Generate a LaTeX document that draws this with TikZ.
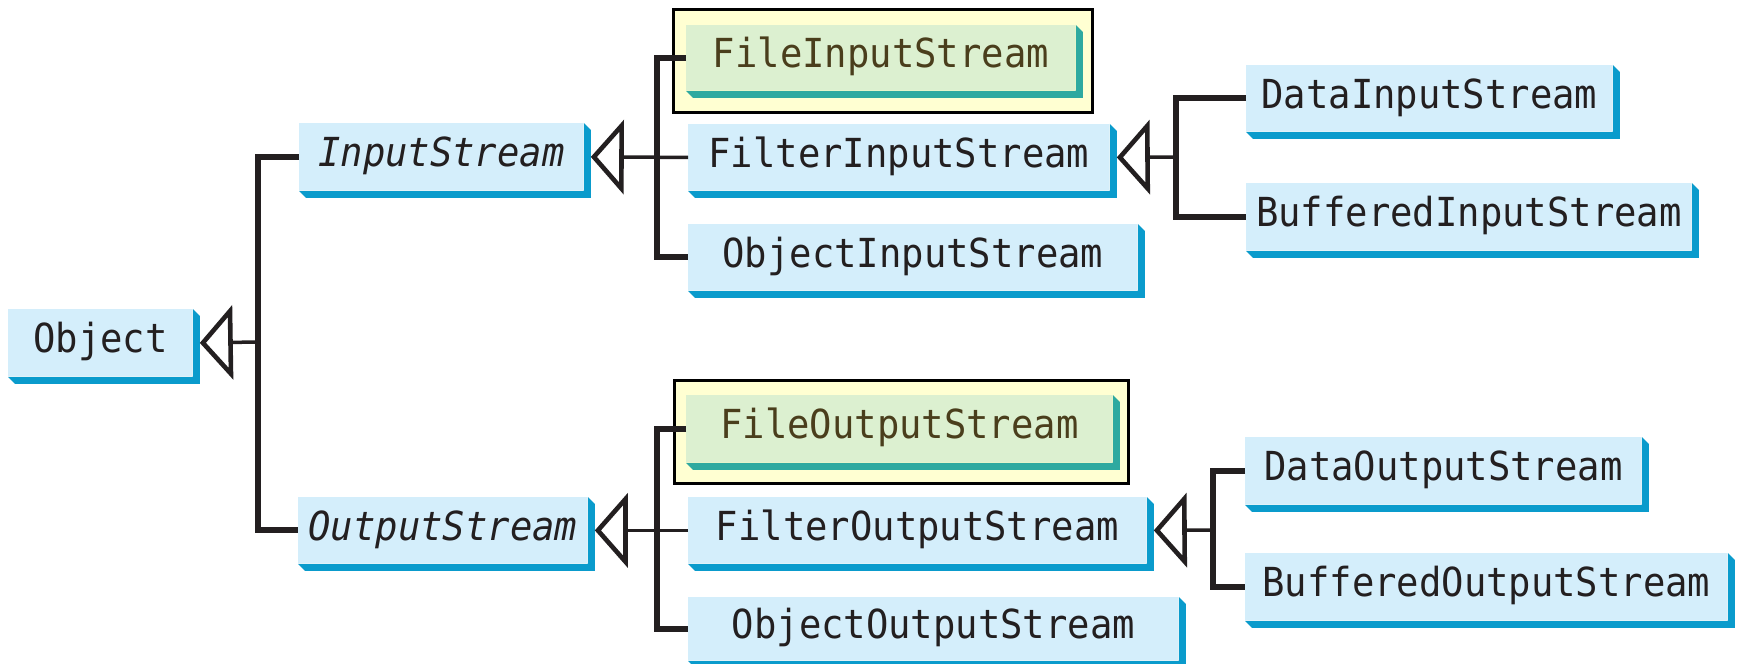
\documentclass[tikz,border=0pt]{standalone}
\usepackage{fontspec}
\usetikzlibrary{calc,arrows.meta,backgrounds}
\newfontfamily\mono[FakeStretch=0.93]{DejaVu Sans Mono}
\definecolor{boxblue}{HTML}{D4EEFB}
\definecolor{shblue}{HTML}{0A9BCC}
\definecolor{boxgreen}{HTML}{DCF0D0}
\definecolor{shgreen}{HTML}{2EA9A0}
\definecolor{ybg}{HTML}{FFFFD2}
\definecolor{ink}{HTML}{231F20}
\definecolor{olive}{HTML}{4A3E1C}
\def\u{0.5pt}
\tikzset{
  cls/.style 2 args={fill=boxblue, text=ink, font=\mono\fontsize{20}{24}\selectfont,
    inner sep=0pt, anchor=north west, text height=14.6pt, text depth=4.6pt,
    minimum width=#1*\u, minimum height=#2*\u},
  gcls/.style 2 args={cls={#1}{#2}, fill=boxgreen, text=olive},
  ybox/.style={fill=ybg, draw=black, line width=1.5pt},
  thickline/.style={draw=ink, line width=3pt},
  thinline/.style={draw=ink, line width=1.75pt},
  tri/.style={-{Triangle[open, length=16.5pt, width=37pt, line width=2.3pt]}},
}
\begin{document}
\begin{tikzpicture}[x=0.5pt, y=-0.5pt]
\useasboundingbox (0,0) rectangle (1743,663);
% nodes
\node[cls={184}{67}] (obj) at (8,309) {Object};
\node[cls={284}{67}, font=\mono\itshape\fontsize{20}{24}\selectfont] (is) at (299,123) {InputStream};
\node[cls={289}{66}, font=\mono\itshape\fontsize{20}{24}\selectfont] (os) at (298,497) {OutputStream};
\node[gcls={389}{65}] (fis) at (686,25) {FileInputStream};
\node[cls={421}{66}] (fil) at (688,124) {FilterInputStream};
\node[cls={449}{66}] (ois) at (688,224) {ObjectInputStream};
\node[cls={366}{66}] (dis) at (1246,65) {DataInputStream};
\node[cls={445}{67}] (bis) at (1246,183) {BufferedInputStream};
\node[gcls={426}{67}] (fos) at (686,395) {FileOutputStream};
\node[cls={458}{66}] (fol) at (688,497) {FilterOutputStream};
\node[cls={490}{63}] (oos) at (688,597) {ObjectOutputStream};
\node[cls={396}{67}] (dos) at (1245,437) {DataOutputStream};
\node[cls={482}{67}] (bos) at (1245,553) {BufferedOutputStream};
% background, yellow frames
\begin{scope}[on background layer]
  \fill[white] (0,0) rectangle (1743,663);
  \draw[ybox] ($(fis.north west)+(-13,-15)$) rectangle ($(fis.south east)+(17,22)$);
  \draw[ybox] ($(fos.north west)+(-12,-15)$) rectangle ($(fos.south east)+(16,21)$);
\end{scope}
% 3D shadows
\foreach \n in {obj,is,os,fil,ois,dis,bis,fol,oos,dos,bos}
  \fill[shblue] (\n.south west) -- ++(7,7) -| ($(\n.north east)+(7,7)$) -- (\n.north east) -- (\n.south east) -- cycle;
\foreach \n in {fis,fos}
  \fill[shgreen] (\n.south west) -- ++(7,7) -| ($(\n.north east)+(7,7)$) -- (\n.north east) -- (\n.south east) -- cycle;
% connectors
\coordinate (j1) at (258,342);
\coordinate (j2) at (657,157);
\coordinate (j3) at (1176,157);
\coordinate (j4) at (657,530);
\coordinate (j5) at (1213,530);
\draw[thickline] (is.west) -| (j1) |- (os.west);
\draw[thinline, tri] (j1) -- ($(obj.east)+(7,0)$);
\draw[thickline] (fis.west) -| (j2) |- (ois.west);
\draw[thinline, tri] (fil.west) -- ($(is.east)+(7,0)$);
\draw[thickline] (dis.west) -| (j3) |- (bis.west);
\draw[thinline, tri] (j3) -- ($(fil.east)+(7,0)$);
\draw[thickline] (fos.west) -| (j4) |- (oos.west);
\draw[thinline, tri] (fol.west) -- ($(os.east)+(7,0)$);
\draw[thickline] (dos.west) -| (j5) |- (bos.west);
\draw[thinline, tri] (j5) -- ($(fol.east)+(7,0)$);
\end{tikzpicture}
\end{document}
